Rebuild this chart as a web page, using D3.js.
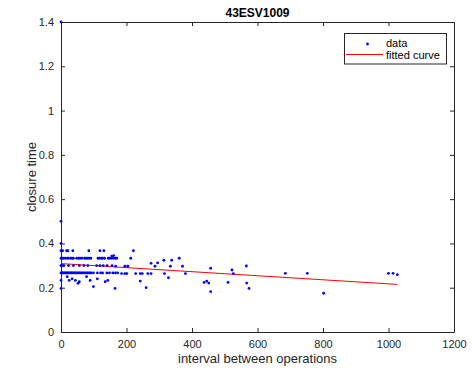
<!DOCTYPE html>
<html><head><meta charset="utf-8">
<script src="https://cdn.jsdelivr.net/npm/d3@7"></script>
<style>
body{margin:0;background:#fff;}
text{font-family:"Liberation Sans",Arial,sans-serif;}
</style></head>
<body><svg id="c" width="474" height="371"></svg>
<script>
const xTicks = [0,200,400,600,800,1000,1200];
const yTicks = [0,0.2,0.4,0.6,0.8,1,1.2,1.4];
const yTickLabels = ["0","0.2","0.4","0.6","0.8","1","1.2","1.4"];
const xTickLabels = ["0","200","400","600","800","1000","1200"];
// data points (interval, closure time)
const dataX = [
 0,0,0,0,
 0,5,17,21,36,85,119,131,221,
 0,3,7,13,19,23,30,34,38,48,54,58,64,72,76,80,85,91,113,117,123,127,133,144,148,154,160,166,170,213,361,
 155,161,314,338,295,275,
 0,1,5,9,23,38,56,70,82,109,119,129,141,156,167,195,204,287,334,371,566,457,522,
 0,3,6,9,12,15,18,21,25,28,31,34,37,41,44,47,51,55,59,63,67,72,76,80,84,88,92,99,111,121,127,140,148,158,166,173,185,195,201,228,242,248,265,275,316,380,526,685,752,1000,1014,1027,
 19,25,34,44,52,56,78,89,111,135,143,242,328,437,445,451,510,567,
 0,99,165,260,574,457,802
];
const dataY = [
 1.4,0.5,0.4,0.233,
 0.367,0.367,0.367,0.367,0.367,0.367,0.367,0.367,0.367,
 0.333,0.333,0.333,0.333,0.333,0.333,0.333,0.333,0.333,0.333,0.333,0.333,0.333,0.333,0.333,0.333,0.333,0.333,0.333,0.333,0.333,0.333,0.333,0.333,0.333,0.333,0.333,0.333,0.333,0.333,0.333,
 0.343,0.345,0.324,0.324,0.312,0.31,
 0.3,0.3,0.3,0.3,0.3,0.3,0.3,0.3,0.3,0.3,0.3,0.3,0.3,0.3,0.297,0.297,0.297,0.297,0.297,0.297,0.298,0.288,0.28,
 0.267,0.267,0.267,0.267,0.267,0.267,0.267,0.267,0.267,0.267,0.267,0.267,0.267,0.267,0.267,0.267,0.267,0.267,0.267,0.267,0.267,0.267,0.267,0.267,0.267,0.267,0.267,0.267,0.267,0.267,0.267,0.267,0.267,0.267,0.267,0.267,0.264,0.264,0.264,0.264,0.264,0.264,0.264,0.264,0.264,0.264,0.264,0.265,0.265,0.265,0.265,0.259,
 0.25,0.233,0.24,0.233,0.22,0.227,0.25,0.233,0.24,0.227,0.233,0.23,0.245,0.224,0.23,0.221,0.224,0.221,
 0.197,0.205,0.197,0.2,0.197,0.182,0.175
];
const fitX = [0, 1027];
const fitY = [0.309, 0.215];

const svg = d3.select("#c");
const L=61, R=454, T=22, B=332;
const x = d3.scaleLinear().domain([0,1200]).range([L,R]);
const y = d3.scaleLinear().domain([0,1.4]).range([B,T]);
const ax = "#262626";

svg.append("rect").attr("x",L).attr("y",T).attr("width",R-L).attr("height",B-T)
  .attr("fill","#fff").attr("stroke","none");

const gx = svg.append("g").attr("transform",`translate(0,${B})`)
  .call(d3.axisBottom(x).tickValues(xTicks).tickFormat((d,i)=>xTickLabels[i]).tickSizeInner(-4).tickSizeOuter(0).tickPadding(8));
const gxt = svg.append("g").attr("transform",`translate(0,${T})`)
  .call(d3.axisTop(x).tickValues(xTicks).tickFormat("").tickSizeInner(-4).tickSizeOuter(0));
const gy = svg.append("g").attr("transform",`translate(${L},0)`)
  .call(d3.axisLeft(y).tickValues(yTicks).tickFormat((d,i)=>yTickLabels[i]).tickSizeInner(-4).tickSizeOuter(0).tickPadding(7));
const gyr = svg.append("g").attr("transform",`translate(${R},0)`)
  .call(d3.axisRight(y).tickValues(yTicks).tickFormat("").tickSizeInner(-4).tickSizeOuter(0));
[gx,gxt,gy,gyr].forEach(g=>{
  g.select(".domain").attr("stroke",ax).attr("stroke-width",1);
  g.selectAll(".tick line").attr("stroke",ax);
  g.selectAll("text").attr("fill",ax).style("font-size","11px").style("font-family","Liberation Sans, Arial, sans-serif");
});

svg.append("path").datum(fitX.map((d,i)=>[d,fitY[i]]))
  .attr("d",d3.line().x(d=>x(d[0])).y(d=>y(d[1])))
  .attr("stroke","#ff0000").attr("stroke-width",1).attr("fill","none");

svg.append("g").selectAll("circle").data(dataX.map((d,i)=>[d,dataY[i]])).join("circle")
  .attr("cx",d=>x(d[0])).attr("cy",d=>y(d[1])).attr("r",1.4).attr("fill","#0000ff");

svg.append("text").attr("x",(L+R)/2).attr("y",17).attr("text-anchor","middle")
  .attr("font-weight","bold").attr("font-size",12).attr("fill","#000").text("43ESV1009");
svg.append("text").attr("x",(L+R)/2).attr("y",363).attr("text-anchor","middle")
  .attr("font-size",13).attr("fill",ax).text("interval between operations");
svg.append("text").attr("transform",`translate(36,${(T+B)/2}) rotate(-90)`).attr("text-anchor","middle")
  .attr("font-size",13).attr("fill",ax).text("closure time");

const lg = svg.append("g");
lg.append("rect").attr("x",344.5).attr("y",33.5).attr("width",102).attr("height",30.5)
  .attr("fill","#fff").attr("stroke",ax).attr("stroke-width",1);
lg.append("circle").attr("cx",367.5).attr("cy",44).attr("r",1.4).attr("fill","#0000ff");
lg.append("text").attr("x",386).attr("y",46.5).attr("font-size",11).attr("fill","#000").text("data");
lg.append("line").attr("x1",346).attr("x2",383).attr("y1",54.5).attr("y2",54.5).attr("stroke","#ff0000").attr("stroke-width",1);
lg.append("text").attr("x",386).attr("y",58.5).attr("font-size",11).attr("fill","#000").text("fitted curve");
</script></body></html>
